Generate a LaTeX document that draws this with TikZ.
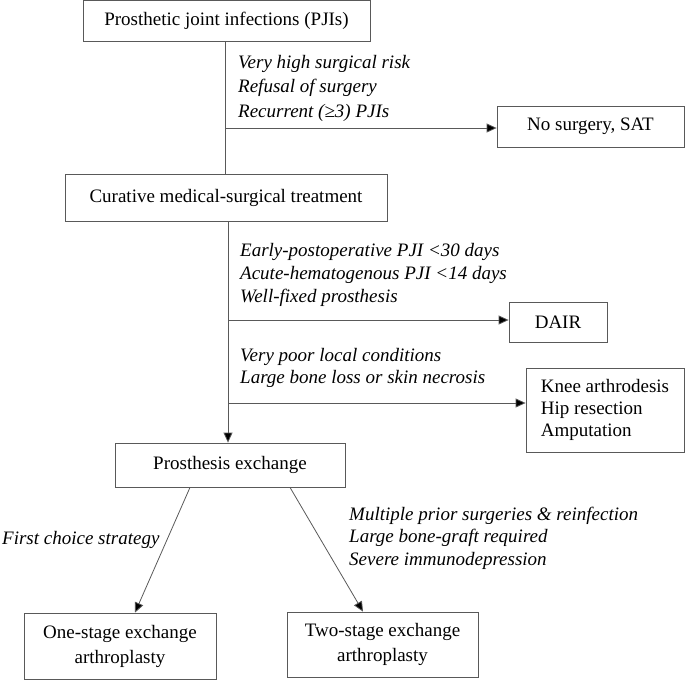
\documentclass[tikz,border=0pt]{standalone}
\usepackage{fontspec}
\setmainfont{Liberation Serif}
\usetikzlibrary{arrows.meta}
\begin{document}
\begin{tikzpicture}[x=1pt,y=-1pt,
  box/.style={draw=black!65,line width=0.8pt,inner sep=0pt,align=center,font=\fontsize{19}{25}\selectfont},
  lbl/.style={inner sep=0pt,anchor=west,align=left,font=\fontsize{19}{23}\selectfont\itshape},
  conn/.style={draw=black!65,line width=0.8pt},
  arr/.style={conn,-{Triangle[length=10pt,width=9pt,fill=black]}}]
\useasboundingbox (0,0) rectangle (685,681);
% boxes
\node[box,minimum width=287,minimum height=41] (b1) at (226.5,21.2) {Prosthetic joint infections (PJIs)};
\node[box,minimum width=322,minimum height=47] (b2) at (226,197.5) {Curative medical-surgical treatment};
\node[box,minimum width=187,minimum height=41] (ns) at (590.5,126.5) {No surgery, SAT};
\node[box,minimum width=98,minimum height=40] (dair) at (558,322) {DAIR};
\node[box,minimum width=158,minimum height=84,align=left,font=\fontsize{19}{22}\selectfont] (knee) at (605,410) {Knee arthrodesis\\Hip resection\\Amputation};
\node[box,minimum width=230,minimum height=44] (b3) at (230,465) {Prosthesis exchange};
\node[box,minimum width=192,minimum height=66] (b4) at (120,646) {One-stage exchange\\arthroplasty};
\node[box,minimum width=191,minimum height=65] (b5) at (382.5,644.5) {Two-stage exchange\\arthroplasty};
% labels
\node[lbl,font=\fontsize{19}{24.5}\selectfont\itshape] (l1) at (238,88) {Very high surgical risk\\Refusal of surgery\\Recurrent (≥3) PJIs};
\node[lbl] (l2) at (240,275) {Early-postoperative PJI <30 days\\Acute-hematogenous PJI <14 days\\Well-fixed prosthesis};
\node[lbl,font=\fontsize{19}{22}\selectfont\itshape] (l3) at (240,368) {Very poor local conditions\\Large bone loss or skin necrosis};
\node[lbl,font=\fontsize{19}{22.5}\selectfont\itshape] (l4) at (349,538) {Multiple prior surgeries \& reinfection\\Large bone-graft required\\Severe immunodepression};
\node[lbl] (l5) at (2,540) {First choice strategy};
% connector coordinates
\coordinate (x1) at (225,0);
\coordinate (x2) at (228,0);
\coordinate (j1) at (226,128);
\coordinate (j2) at (228,320);
\coordinate (j3) at (229,403);
\coordinate (d1) at (190,0);
\coordinate (e1) at (135,0);
\coordinate (d2) at (290,0);
\coordinate (e2) at (363,0);
% connectors
\draw[conn] (b1.south -| x1) -- (b2.north -| x1);
\draw[arr] (j1) -- (ns.west |- j1);
\draw[arr] (b2.south -| x2) -- (b3.north -| x2);
\draw[arr] (j2) -- (dair.west |- j2);
\draw[arr] (j3) -- (knee.west |- j3);
\draw[arr] (b3.south -| d1) -- (b4.north -| e1);
\draw[arr] (b3.south -| d2) -- (b5.north -| e2);
\end{tikzpicture}
\end{document}
